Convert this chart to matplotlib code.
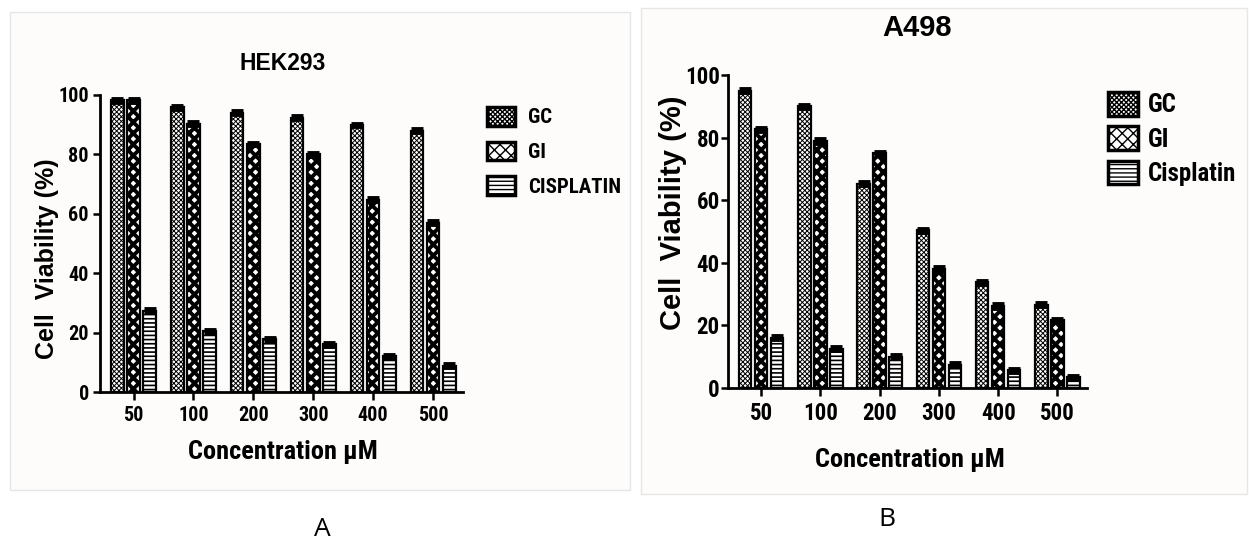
import matplotlib
matplotlib.use("Agg")
import matplotlib.pyplot as plt
import numpy as np
from matplotlib import font_manager
from matplotlib.patches import Rectangle, Patch

names = {f.name for f in font_manager.fontManager.ttflist}
NARROW = next((n for n in ["Liberation Sans Narrow", "Roboto Condensed", "Archivo Narrow",
                           "Fira Sans Condensed", "Barlow Semi Condensed"] if n in names), "Liberation Sans")
BOLD = "Liberation Sans"

categories = ["50", "100", "200", "300", "400", "500"]
hek_gc = [98.3, 95.9, 94.0, 92.3, 89.9, 87.9]
hek_gi = [98.3, 90.3, 83.5, 80.1, 64.8, 57.0]
hek_cis = [27.3, 20.5, 17.8, 16.0, 12.0, 8.9]
a498_gc = [95.0, 90.0, 65.3, 50.4, 33.8, 26.6]
a498_gi = [82.6, 78.9, 75.0, 38.0, 26.2, 21.6]
a498_cis = [16.0, 12.6, 10.0, 7.5, 5.6, 3.4]
err = 0.5

fig = plt.figure(figsize=(12.49, 5.40), dpi=100)
fig.patch.set_facecolor("white")

fig.patches.append(Rectangle((10/1249, 1-490/540), 620/1249, 478/540, transform=fig.transFigure,
                             facecolor="#fdfcfb", edgecolor="#e6e6e6", lw=1, zorder=-10))
fig.patches.append(Rectangle((641/1249, 1-494/540), 606/1249, 486/540, transform=fig.transFigure,
                             facecolor="#fdfcfb", edgecolor="#e6e6e6", lw=1, zorder=-10))

STYLES = [("xxxxxxx", 0.7), ("xxx", 2.8), ("----", 1.2)]

def hatched(hlw, **kw):
    with plt.rc_context({"hatch.linewidth": hlw}):
        p = Patch(**kw)
    if hasattr(p, "set_hatch_linewidth"):
        p.set_hatch_linewidth(hlw)
    return p

def panel(rect, gc, gi, cis, labels, tfs, xfs, ylfs, ylab_xy, xlab_xy, legend_pos, leg_fs, hl, hh, ls, htp, cap, ypad):
    ax = fig.add_axes(rect)
    ax.set_facecolor("none")
    x = np.arange(len(categories))
    w = 0.21
    off = 0.27
    handles = []
    for vals, (hatch, hlw), o, lab in zip([gc, gi, cis], STYLES, [-off, 0, off], labels):
        with plt.rc_context({"hatch.linewidth": hlw}):
            bars = ax.bar(x + o, vals, width=w, facecolor="white", edgecolor="black",
                          hatch=hatch, lw=1.6, zorder=2)
        for b in bars:
            if hasattr(b, "set_hatch_linewidth"):
                b.set_hatch_linewidth(hlw)
        ax.errorbar(x + o, vals, yerr=err, fmt="none", ecolor="black", elinewidth=2,
                    capsize=cap, capthick=3.5, zorder=3)
        handles.append(hatched(hlw, facecolor="white", edgecolor="black", hatch=hatch, lw=2.5, label=lab))
    ax.set_xlim(-0.56, 5.5)
    ax.set_ylim(0, 100)
    ax.set_yticks([0, 20, 40, 60, 80, 100])
    ax.set_xticks(x)
    ax.set_xticklabels(categories)
    for s in ["top", "right"]:
        ax.spines[s].set_visible(False)
    for s in ["left", "bottom"]:
        ax.spines[s].set_linewidth(2)
    ax.tick_params(axis="both", direction="out", length=6, width=1.8, labelsize=tfs, pad=4)
    ax.tick_params(axis="y", length=5, pad=ypad)
    for t in ax.get_xticklabels() + ax.get_yticklabels():
        t.set_fontfamily(NARROW)
        t.set_fontweight("bold")
    ax.set_xlabel("Concentration \u03bcM", fontsize=xfs, fontweight="bold", family=NARROW)
    ax.set_ylabel("Cell  Viability (%)", fontsize=ylfs, fontweight="bold", family=BOLD)
    ax.yaxis.label.set_va("center")
    ax.xaxis.label.set_va("center")
    ax.yaxis.set_label_coords(*ylab_xy)
    ax.xaxis.set_label_coords(*xlab_xy)
    fig.legend(handles=handles, loc="upper left", bbox_to_anchor=legend_pos, frameon=False,
               prop={"family": NARROW, "weight": "bold", "size": leg_fs}, borderpad=0, borderaxespad=0,
               handlelength=hl, handleheight=hh, labelspacing=ls, handletextpad=htp)
    return ax

panel([100/1249, 1-392/540, 363/1249, 297/540], hek_gc, hek_gi, hek_cis,
      ["GC", "GI", "CISPLATIN"], 14.5, 19, 18, (-0.146, 0.45), (0.504, -0.202),
      (487/1249, 1-107/540), 15, 1.35, 1.0, 0.68, 0.62, 4.5, 3)
panel([728/1249, 1-388/540, 359/1249, 313/540], a498_gc, a498_gi, a498_cis,
      ["GC", "GI", "Cisplatin"], 16.5, 19, 21, (-0.152, 0.56), (0.507, -0.23),
      (1108/1249, 1-92/540), 18, 1.2, 1.08, 0.36, 0.4, 4.5, 1)

fig.text(283/1249, 1-63/540, "HEK293", ha="center", va="center", fontsize=16.5, fontweight="bold", family=BOLD)
fig.text(917/1249, 1-28/540, "A498", ha="center", va="center", fontsize=21, fontweight="bold", family=BOLD)

fig.text(322/1249, 1-529/540, "A", ha="center", va="center", fontsize=19, family="Open Sans")
fig.text(887/1249, 1-520/540, "B", ha="center", va="center", fontsize=19, family="Open Sans")

fig.savefig("out.png", dpi=100, facecolor="white")
